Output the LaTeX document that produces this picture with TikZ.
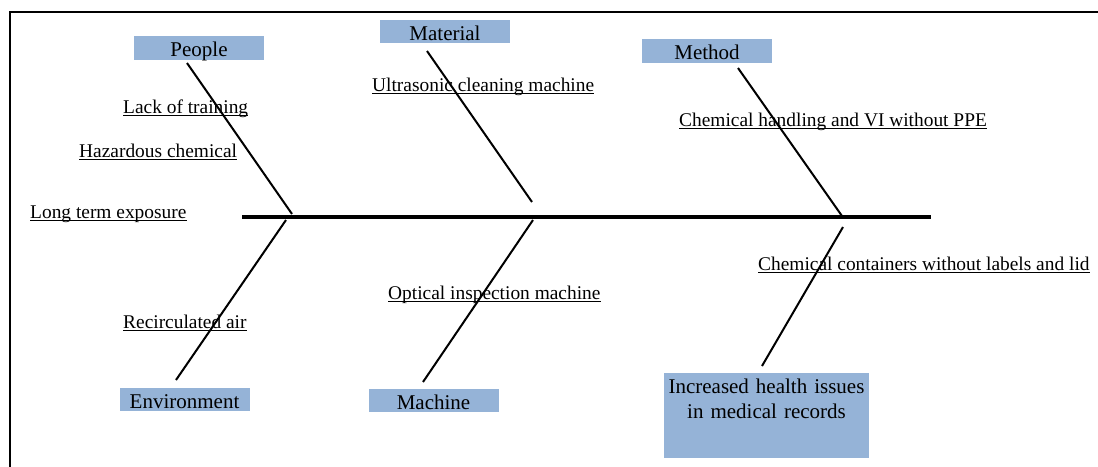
\documentclass[tikz,border=0pt]{standalone}
\usepackage{fontspec}
\setmainfont{Liberation Serif}
\definecolor{boxblue}{RGB}{149,179,215}
\begin{document}
\begin{tikzpicture}[x=1pt,y=-1pt,
  hdr/.style={fill=boxblue, minimum width=130pt, minimum height=23.5pt, inner sep=0pt,
    text height=18.5pt, text depth=1.5pt, font=\fontsize{21}{25}\selectfont},
  resbox/.style={fill=boxblue, inner sep=0pt, text width=205pt, align=center,
    text height=20pt, text depth=65pt, font=\fontsize{21}{25}\selectfont},
  lbl/.style={inner sep=0pt, anchor=base west, font=\fontsize{19.4}{23}\selectfont},
  uline/.style={line width=1pt},
  bone/.style={line width=2pt},
  spine/.style={line width=4pt},
  frame/.style={line width=2pt}]
\useasboundingbox (0,0) rectangle (1098,466);
% frame
\draw[frame] (9.5,470) -- (9.5,12) -- (1100,12);
% category boxes
\node[hdr] (people) at (199,48) {People};
\node[hdr] (material) at (445,31.5) {Material};
\node[hdr] (method) at (707,51) {Method};
\node[hdr] (environment) at (184.5,399.5) {Environment};
\node[hdr] (machine) at (433.5,400.5) {Machine};
\node[resbox, anchor=north] (result) at (766.5,373) {Increased health issues\\in medical records};
% spine
\coordinate (sL) at (242,217);
\coordinate (sR) at (931,217);
\draw[spine] (sL) -- (sR);
% bone ends
\coordinate (pT) at (187,63);   \coordinate (pB) at (292,214);
\coordinate (mT) at (427,51);   \coordinate (mB) at (532,202);
\coordinate (meT) at (738,68);  \coordinate (meB) at (842,216);
\coordinate (eT) at (286,220);  \coordinate (eB) at (176,380);
\coordinate (maT) at (533,220); \coordinate (maB) at (423,382);
\coordinate (rT) at (843,227);  \coordinate (rB) at (762,366);
\draw[bone] (pT) -- (pB);
\draw[bone] (mT) -- (mB);
\draw[bone] (meT) -- (meB);
\draw[bone] (eT) -- (eB);
\draw[bone] (maT) -- (maB);
\draw[bone] (rT) -- (rB);
% cause labels
\node[lbl] (lack) at (123,113) {Lack of training};
\node[lbl] (haz) at (79,157) {Hazardous chemical};
\node[lbl] (long) at (30,218) {Long term exposure};
\node[lbl] (ultra) at (372,91) {Ultrasonic cleaning machine};
\node[lbl] (chemh) at (679,126) {Chemical handling and VI without PPE};
\node[lbl] (chemc) at (758,270) {Chemical containers without labels and lid};
\node[lbl] (optical) at (388,299) {Optical inspection machine};
\node[lbl] (recirc) at (123,328) {Recirculated air};
\foreach \n in {lack,haz,long,ultra,chemh,chemc,optical,recirc}
  \draw[uline] ([yshift=-2.5pt]\n.base west) -- ([yshift=-2.5pt]\n.base east);
\end{tikzpicture}
\end{document}
